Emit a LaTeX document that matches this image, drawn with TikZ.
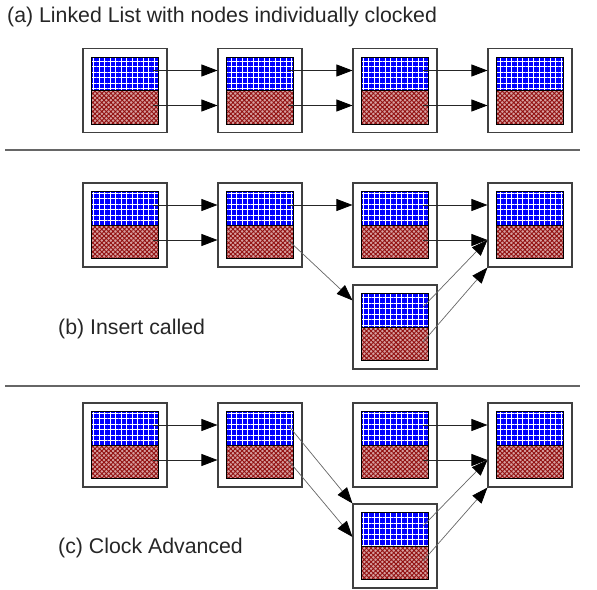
\documentclass[tikz,border=0pt]{standalone}
\usepackage{fontspec}
\setmainfont{Liberation Sans}
\usetikzlibrary{
  arrows.meta,
  patterns.meta
}

\definecolor{cellblue}{RGB}{0,0,255}
\definecolor{cellpink}{RGB}{215,160,160}
\definecolor{celldark}{RGB}{145,15,15}

\begin{document}
\begin{tikzpicture}[x=1pt,y=-1pt,>={Triangle[length=16pt,width=12pt,color=black]}]

\useasboundingbox (0,0) rectangle (597,589);

% Styles for the list cells and the links
\tikzset{
    outerbox/.style={draw=black!75,line width=1.1pt,fill=white,
        minimum width=84pt,minimum height=84pt,inner sep=0pt},
    tophalf/.style={draw=black,line width=0.7pt,inner sep=0pt,
        minimum width=67pt,minimum height=33.5pt,
        preaction={fill=cellblue},
        pattern={Hatch[angle=0,distance=5.5pt,line width=0.9pt]},
        pattern color=white},
    bothalf/.style={draw=black,line width=0.7pt,inner sep=0pt,
        minimum width=67pt,minimum height=33.5pt,
        preaction={fill=cellpink},
        pattern={Hatch[angle=45,distance=3.2pt,line width=0.9pt]},
        pattern color=celldark},
    link/.style={->,draw=black!85,line width=0.8pt},
    slant/.style={->,draw=black!60,line width=0.7pt},
    lbl/.style={anchor=base west,inner sep=0pt,
        font=\fontsize{21.3}{25}\selectfont,text=black!85},
    sep/.style={draw=black!60,line width=1.2pt},
    cell/.pic={
        \node[outerbox] (-o) at (0,0) {};
        \node[tophalf] (-t) at (0,-16.75) {};
        \node[bothalf] (-b) at (0,16.75) {};
        \coordinate (-ta) at (28,-20);
        \coordinate (-ba) at (28,15);
    }
}

% Panel labels and separators
\node[lbl] (la) at (7,23) {(a) Linked List with nodes individually clocked};
\node[lbl] (lb) at (58,334) {(b) Insert called};
\node[lbl] (lc) at (58,553) {(c) Clock Advanced};
\draw[sep] (5,150) -- (580,150);
\draw[sep] (5,386) -- (580,386);

% (a) four cells in a row
\foreach \k/\x in {1/125,2/260,3/395,4/530} {
    \pic (a\k) at (\x,90.5) {cell};
}
\foreach \i/\j in {1/2,2/3,3/4} {
    \draw[link] (a\i-ta) -- (a\i-ta -| a\j-o.west);
    \draw[link] (a\i-ba) -- (a\i-ba -| a\j-o.west);
}

% (b) insert called
\foreach \k/\x in {1/125,2/260,3/395,4/530} {
    \pic (b\k) at (\x,225) {cell};
}
\pic (bL) at (395,327) {cell};
\draw[link] (b1-ta) -- (b1-ta -| b2-o.west);
\draw[link] (b1-ba) -- (b1-ba -| b2-o.west);
\draw[link] (b2-ta) -- (b2-ta -| b3-o.west);
\draw[slant] (b2-ba) -- (bL-o.148);
\draw[link] (b3-ta) -- (b3-ta -| b4-o.west);
\draw[link] (b3-ba) -- (b3-ba -| b4-o.west);
\draw[slant] (bL-ta) -- (b3-ba -| b4-o.west);
\draw[slant] (bL-ba) -- (b4-o.south west);

% (c) clock advanced
\foreach \k/\x in {1/125,2/260,3/395,4/530} {
    \pic (c\k) at (\x,445) {cell};
}
\pic (cL) at (395,546) {cell};
\draw[link] (c1-ta) -- (c1-ta -| c2-o.west);
\draw[link] (c1-ba) -- (c1-ba -| c2-o.west);
\draw[slant] (c2-ta) -- (cL-o.north west);
\draw[slant] (c2-ba) -- (cL-o.168);
\draw[link] (c3-ta) -- (c3-ta -| c4-o.west);
\draw[link] (c3-ba) -- (c3-ba -| c4-o.west);
\draw[slant] (cL-ta) -- (c3-ba -| c4-o.west);
\draw[slant] (cL-ba) -- (c4-o.south west);

\end{tikzpicture}
\end{document}
